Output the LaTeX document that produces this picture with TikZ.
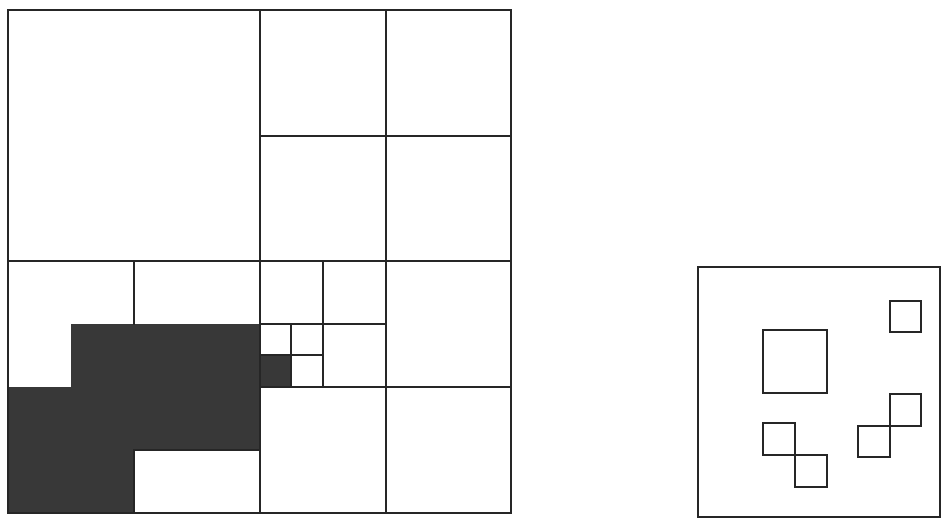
\documentclass[tikz,border=0pt]{standalone}
\begin{document}
\begin{tikzpicture}[x=1pt,y=-1pt,
  edge/.style={line width=1.6pt,draw=black!85,line cap=rect},
  darkfill/.style={fill=black!78}]
\useasboundingbox (0,0) rectangle (941,521);
% dark region of the quadtree
\fill[darkfill] (8,387) -- (71,387) -- (71,324) -- (260,324) -- (260,355) -- (291,355)
  -- (291,387) -- (260,387) -- (260,450) -- (134,450) -- (134,513) -- (8,513) -- cycle;
% quadtree boundaries
\draw[edge] (8,10) rectangle (511,513);
\draw[edge] (260,10) -- (260,513);
\draw[edge] (8,261) -- (511,261);
\draw[edge] (386,10) -- (386,513);
\draw[edge] (260,136) -- (511,136);
\draw[edge] (260,387) -- (511,387);
\draw[edge] (323,261) -- (323,387);
\draw[edge] (260,324) -- (386,324);
\draw[edge] (291,324) -- (291,387);
\draw[edge] (260,355) -- (323,355);
\draw[edge] (134,261) -- (134,324);
\draw[edge] (134,513) -- (134,450) -- (260,450);
% right panel
\draw[edge] (698,267) rectangle (940,517);
\draw[edge] (890,301) rectangle (921,332);
\draw[edge] (763,330) rectangle (827,393);
\draw[edge] (763,423) rectangle (795,455);
\draw[edge] (795,455) rectangle (827,487);
\draw[edge] (890,394) rectangle (921,426);
\draw[edge] (858,426) rectangle (890,457);
\end{tikzpicture}
\end{document}
